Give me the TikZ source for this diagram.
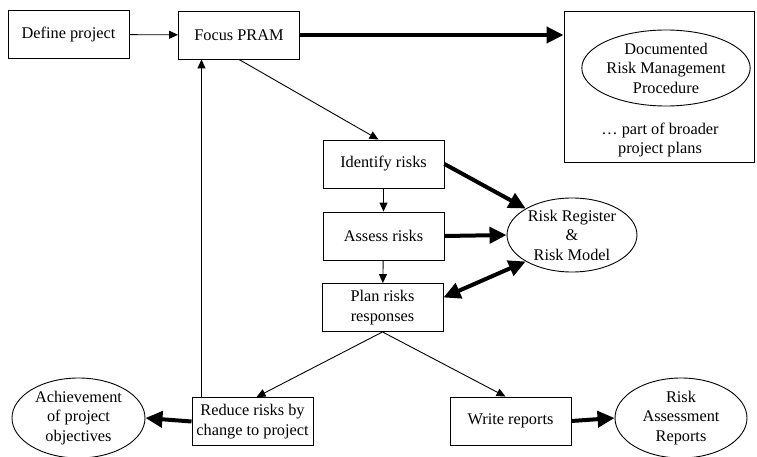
\documentclass[tikz,border=0pt]{standalone}
\usepackage{fontspec}
\setmainfont{Liberation Serif}
\usetikzlibrary{shapes,arrows.meta}

\begin{document}
\begin{tikzpicture}[x=1pt,y=-1pt,line width=0.9pt,
        every node/.append style={font=\fontsize{16.3}{19.5}\selectfont,align=center}]
      \tikzstyle{task} = [draw,rectangle,minimum width=121pt,minimum height=48pt,inner sep=0pt]
      \tikzstyle{result} = [draw,ellipse,inner sep=0pt]
      \tikzstyle{flow} = [-{Triangle[length=9pt,width=8pt]}]
      \tikzstyle{main} = [line width=4pt,-{Triangle[length=17pt,width=16pt]}]
      \tikzstyle{both} = [line width=4pt,{Triangle[length=17pt,width=16pt]}-{Triangle[length=17pt,width=16pt]}]
      \useasboundingbox (0,0) rectangle (757,457);
      \node (define) [task] at (68.5,34.5) {Define project};
      \node (focus) [task] at (239,35) {Focus PRAM};
      \node (plans) [draw,rectangle,minimum width=190pt,minimum height=151pt] at (659,86.5) {};
      \node (procedure) [result,minimum width=125pt,minimum height=76pt] at (666,68)
        {Documented\\Risk Management\\Procedure};
      \node (broader) at (660,140) {\dots\ part of broader\\project plans};
      \node (identify) [task] at (383.5,164) {Identify risks};
      \node (assess) [task] at (383.5,236) {Assess risks};
      \node (plan) [task] at (382.5,307.5) {Plan risks\\responses};
      \node (register) [result,minimum width=130pt,minimum height=74pt] at (572,235)
        {Risk Register\\\&\\Risk Model};
      \node (reduce) [task] at (252.5,421.5) {Reduce risks by\\change to project};
      \node (write) [task] at (510.5,421) {Write reports};
      \node (achieve) [result,minimum width=133pt,minimum height=80pt] at (78.5,418)
        {Achievement\\of project\\objectives};
      \node (reports) [result,minimum width=132pt,minimum height=80pt] at (681,418)
        {Risk\\Assessment\\Reports};
      \draw[flow] (define) -- (focus);
      \draw[main] (focus) -- (focus -| plans.west);
      \draw[flow] (focus.south) -- ([xshift=-5pt]identify.north);
      \draw[flow] (identify) -- (assess);
      \draw[flow] (assess) -- (plan);
      \draw[flow] (plan.south) -- ([xshift=4pt]reduce.north);
      \draw[flow] (plan.south) -- ([xshift=-5pt]write.north);
      \draw[flow] ([xshift=-51pt]reduce.north) -- ([xshift=-51pt]reduce.north |- focus.south);
      \draw[main] (identify.east) -- (register.north west);
      \draw[main] (assess.east) -- (register.west);
      \draw[both] ([yshift=10pt]plan.east) -- (register.south west);
      \draw[main] (reduce.west) -- (achieve.east);
      \draw[main] (write.east) -- (reports.west);
    \end{tikzpicture}
\end{document}
